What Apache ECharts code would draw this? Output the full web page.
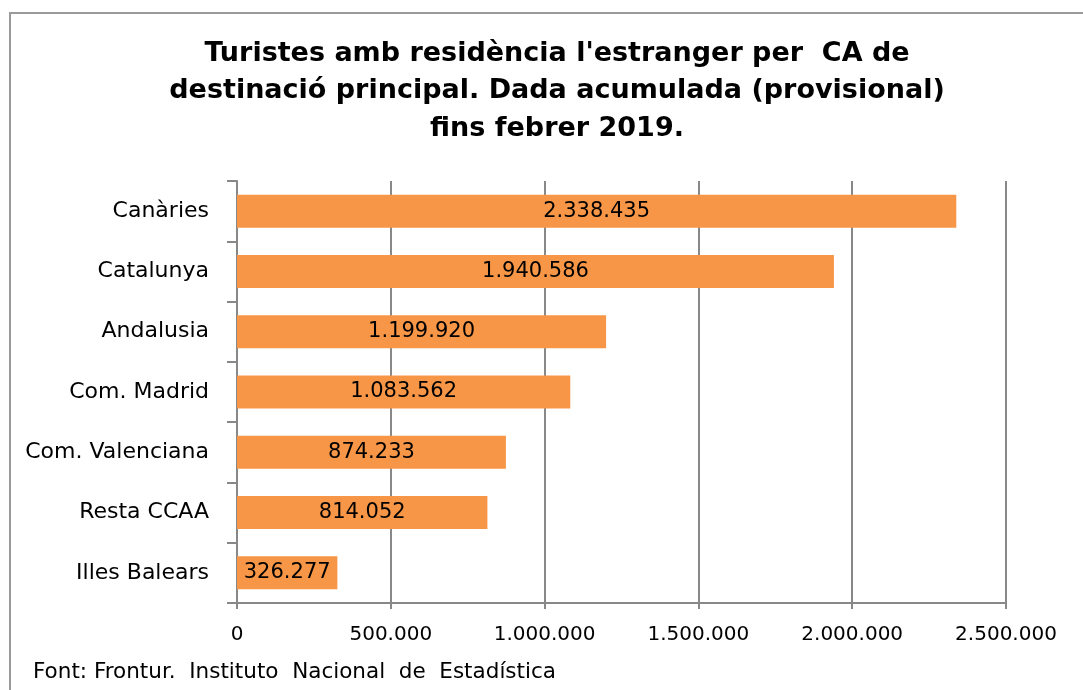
<!DOCTYPE html>
<html>
<head>
<meta charset="utf-8">
<script src="https://cdn.jsdelivr.net/npm/echarts@6/dist/echarts.min.js"></script>
<style>
  html, body { margin: 0; padding: 0; background: #fff; }
  #chart { width: 1083px; height: 690px; }
</style>
</head>
<body>
<div id="chart"></div>
<script>
"use strict";

// data
var categories = ["Canàries", "Catalunya", "Andalusia", "Com. Madrid", "Com. Valenciana", "Resta CCAA", "Illes Balears"];
var turistes = [2338435, 1940586, 1199920, 1083562, 874233, 814052, 326277];
var xTicks = [0, 500000, 1000000, 1500000, 2000000, 2500000];

var FONT = "DejaVu Sans";

function fmt(v) {
  // punt com a separador de milers
  return String(v).replace(/\B(?=(\d{3})+(?!\d))/g, ".");
}

var chart = echarts.init(document.getElementById("chart"));

chart.setOption({
  backgroundColor: "#fff",
  animation: false,
  title: {
    text: "Turistes amb residència l'estranger per  CA de\ndestinació principal. Dada acumulada (provisional)\nfins febrer 2019.",
    left: 552,
    top: 30,
    textAlign: "center",
    textStyle: {
      fontFamily: FONT,
      fontWeight: "bold",
      fontSize: 27,
      lineHeight: 37.5,
      color: "#000"
    }
  },
  graphic: [
    {
      type: "rect",
      shape: { x: 10, y: 13, width: 1090, height: 700 },
      style: { fill: "none", stroke: "#9a9a9a", lineWidth: 2 }
    },
    {
      type: "text",
      left: 33,
      top: 661,
      style: {
        text: "Font: Frontur.  Instituto  Nacional  de  Estadística",
        fontFamily: FONT,
        fontSize: 21.5,
        fill: "#000"
      }
    }
  ],
  grid: { left: 237, right: 77, top: 181, bottom: 87 },
  xAxis: {
    type: "value",
    min: xTicks[0],
    max: xTicks[xTicks.length - 1],
    interval: 500000,
    axisLine: { show: true, lineStyle: { color: "#888", width: 2 } },
    axisTick: { show: true, length: 6, lineStyle: { color: "#888", width: 2 } },
    splitLine: { show: true, lineStyle: { color: "#888", width: 2 } },
    axisLabel: {
      margin: 22,
      fontFamily: FONT,
      fontSize: 20,
      color: "#000",
      formatter: function (v) { return fmt(v); }
    }
  },
  yAxis: {
    type: "category",
    data: categories,
    inverse: true,
    axisLine: { show: true, lineStyle: { color: "#888", width: 2 } },
    axisTick: { show: true, length: 10, lineStyle: { color: "#888", width: 2 } },
    axisLabel: {
      margin: 28,
      fontFamily: FONT,
      fontSize: 22,
      color: "#000"
    }
  },
  series: [
    {
      name: "Turistes",
      type: "bar",
      data: turistes,
      barWidth: 33,
      itemStyle: { color: "#F79646" },
      label: {
        show: true,
        position: "inside",
        fontFamily: FONT,
        fontSize: 21,
        color: "#000",
        formatter: function (p) { return fmt(p.value); }
      }
    }
  ]
});
</script>
</body>
</html>
